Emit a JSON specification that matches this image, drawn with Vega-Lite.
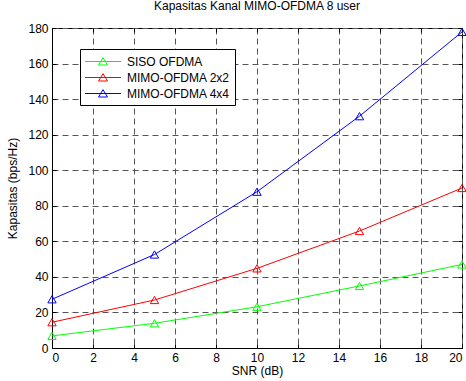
{
  "$schema": "https://vega.github.io/schema/vega-lite/v6.json",
  "autosize": "none",
  "width": 410,
  "height": 320,
  "padding": {"left": 52, "top": 28, "right": 4, "bottom": 33},
  "background": "white",
  "title": {"text": "Kapasitas Kanal MIMO-OFDMA 8 user", "fontSize": 12, "fontWeight": "normal", "font": "Liberation Sans", "offset": 9, "color": "black"},
  "config": {
    "view": {"stroke": "black", "strokeWidth": 1},
    "font": "Liberation Sans",
    "axis": {"labelFont": "Liberation Sans", "titleFont": "Liberation Sans", "labelFontSize": 12, "titleFontSize": 12, "titleFontWeight": "normal", "labelColor": "black", "titleColor": "black", "domainColor": "black", "tickColor": "black", "gridColor": "#555555", "gridDash": [6, 4], "gridWidth": 1}
  },
  "data": {"values": [
    {"series": "SISO OFDMA", "snr": 0, "cap": 6.8},
    {"series": "SISO OFDMA", "snr": 5, "cap": 13.9},
    {"series": "SISO OFDMA", "snr": 10, "cap": 23.2},
    {"series": "SISO OFDMA", "snr": 15, "cap": 34.9},
    {"series": "SISO OFDMA", "snr": 20, "cap": 47.0},
    {"series": "MIMO-OFDMA 2x2", "snr": 0, "cap": 14.5},
    {"series": "MIMO-OFDMA 2x2", "snr": 5, "cap": 27.0},
    {"series": "MIMO-OFDMA 2x2", "snr": 10, "cap": 44.8},
    {"series": "MIMO-OFDMA 2x2", "snr": 15, "cap": 65.8},
    {"series": "MIMO-OFDMA 2x2", "snr": 20, "cap": 90.0},
    {"series": "MIMO-OFDMA 4x4", "snr": 0, "cap": 27.4},
    {"series": "MIMO-OFDMA 4x4", "snr": 5, "cap": 52.6},
    {"series": "MIMO-OFDMA 4x4", "snr": 10, "cap": 87.9},
    {"series": "MIMO-OFDMA 4x4", "snr": 15, "cap": 130.4},
    {"series": "MIMO-OFDMA 4x4", "snr": 20, "cap": 177.8}
  ]},
  "layer": [
    {
      "mark": {"type": "line", "strokeWidth": 1, "clip": true},
      "encoding": {
        "x": {"field": "snr", "type": "quantitative", "scale": {"domain": [0, 20], "nice": false}, "axis": {"title": "SNR (dB)", "values": [0, 2, 4, 6, 8, 10, 12, 14, 16, 18, 20], "tickSize": -4, "labelPadding": 8, "titlePadding": 2, "grid": true}},
        "y": {"field": "cap", "type": "quantitative", "scale": {"domain": [0, 180], "nice": false}, "axis": {"title": "Kapasitas (bps/Hz)", "values": [0, 20, 40, 60, 80, 100, 120, 140, 160, 180], "tickSize": -4, "labelPadding": 8, "titlePadding": 8, "grid": true}},
        "color": {"field": "series", "type": "nominal", "scale": {"domain": ["SISO OFDMA", "MIMO-OFDMA 2x2", "MIMO-OFDMA 4x4"], "range": ["#00ff00", "#ff0000", "#0000ff"]},
          "legend": {"title": null, "orient": "none", "legendX": 28, "legendY": 21, "symbolType": "M-1.07,0H4.07M1.5,-0.55L2.14,0.5L0.86,0.5Z", "symbolSize": 196, "symbolStrokeWidth": 1, "symbolFillColor": "transparent", "labelFontSize": 12, "labelFont": "Liberation Sans", "labelColor": "black", "labelOffset": 27, "rowPadding": 2, "padding": 5, "strokeColor": "black", "fillColor": "white", "cornerRadius": 0}}
      }
    },
    {
      "mark": {"type": "point", "shape": "triangle-up", "filled": false, "size": 70, "strokeWidth": 1, "opacity": 1},
      "encoding": {
        "x": {"field": "snr", "type": "quantitative", "axis": {"orient": "top", "title": null, "labels": false, "values": [0, 2, 4, 6, 8, 10, 12, 14, 16, 18, 20], "tickSize": -4, "grid": false, "domain": false}},
        "y": {"field": "cap", "type": "quantitative", "axis": {"orient": "right", "title": null, "labels": false, "values": [0, 20, 40, 60, 80, 100, 120, 140, 160, 180], "tickSize": -4, "grid": false, "domain": false}},
        "color": {"field": "series", "type": "nominal", "legend": null}
      }
    }
  ],
  "resolve": {"axis": {"x": "independent", "y": "independent"}}
}
